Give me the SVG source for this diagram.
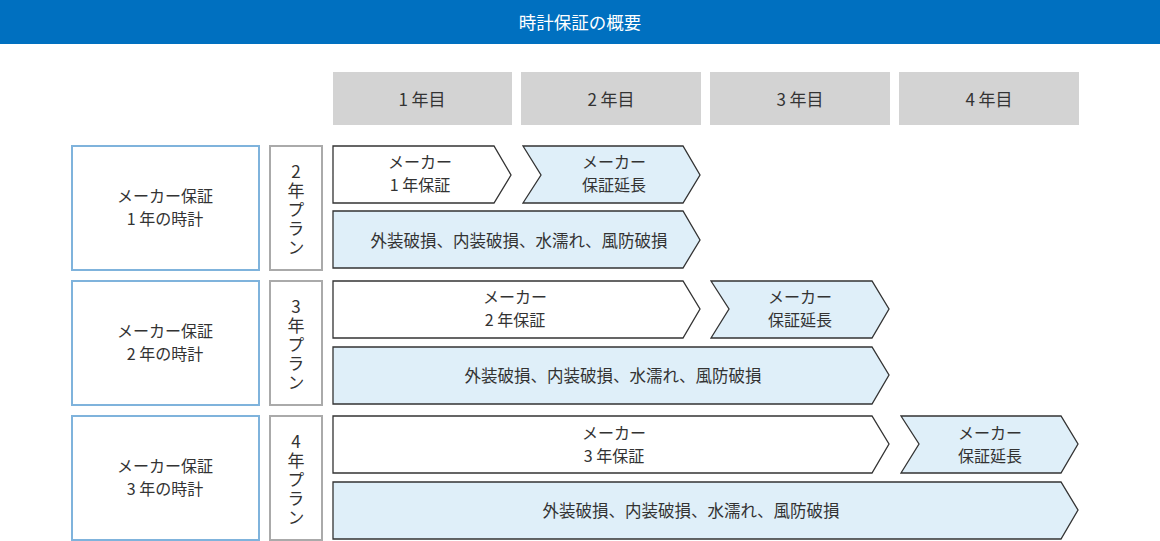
<svg xmlns="http://www.w3.org/2000/svg" width="1160" height="541" viewBox="0 0 1160 541">
<style>
text{font-family:"Noto Sans CJK JP","Noto Sans",sans-serif;fill:#333;text-anchor:middle;dominant-baseline:central}
.title{fill:#fff;font-size:17.5px}
.yr{fill:#d3d3d3}
.yt{font-size:17px}
.lb{fill:#fff;stroke:#7fb3dc;stroke-width:2}
.pb{fill:#fff;stroke:#aaa;stroke-width:2}
.w{fill:#fff;stroke:#333;stroke-width:1.3}
.b{fill:#dfeff9;stroke:#333;stroke-width:1.3}
.t{font-size:16px}
.c{font-size:16.5px}
.v{font-size:17px;writing-mode:vertical-rl;text-orientation:upright;letter-spacing:2px;dominant-baseline:auto}
</style>
<rect x="0" y="0" width="1160" height="44" fill="#0070c0"/>
<text class="title" x="580" y="21">時計保証の概要</text>
<g id="years">
<rect class="yr" x="333" y="72" width="179" height="53"/><text class="yt" x="422" y="98">1 年目</text>
<rect class="yr" x="521" y="72" width="180" height="53"/><text class="yt" x="611" y="98">2 年目</text>
<rect class="yr" x="710" y="72" width="180" height="53"/><text class="yt" x="800" y="98">3 年目</text>
<rect class="yr" x="899" y="72" width="180" height="53"/><text class="yt" x="989" y="98">4 年目</text>
</g>
<g id="row1">
<rect class="lb" x="72" y="146" width="187" height="124"/>
<text class="t" x="165" y="195">メーカー保証</text><text class="t" x="165" y="218">1 年の時計</text>
<rect class="pb" x="270" y="146" width="52" height="124"/>
<text class="v" x="296" y="211">2年プラン</text>
<polygon class="w" points="333,146 494,146 511,175 494,203 333,203"/>
<text class="t" x="420" y="161">メーカー</text><text class="t" x="420" y="184">1 年保証</text>
<polygon class="b" points="523,146 683,146 700,175 683,203 523,203 541,175"/>
<text class="t" x="614" y="161">メーカー</text><text class="t" x="614" y="184">保証延長</text>
<polygon class="b" points="333,211 683,211 700,240 683,268 333,268"/>
<text class="c" x="519" y="240">外装破損、内装破損、水濡れ、風防破損</text>
</g>
<g id="row2">
<rect class="lb" x="72" y="281" width="187" height="124"/>
<text class="t" x="165" y="330">メーカー保証</text><text class="t" x="165" y="353">2 年の時計</text>
<rect class="pb" x="270" y="281" width="52" height="124"/>
<text class="v" x="296" y="346">3年プラン</text>
<polygon class="w" points="333,281 683,281 700,309 683,338 333,338"/>
<text class="t" x="515" y="296">メーカー</text><text class="t" x="515" y="319">2 年保証</text>
<polygon class="b" points="711,281 872,281 889,309 872,338 711,338 729,309"/>
<text class="t" x="800" y="296">メーカー</text><text class="t" x="800" y="319">保証延長</text>
<polygon class="b" points="333,347 872,347 889,375 872,404 333,404"/>
<text class="c" x="613" y="375">外装破損、内装破損、水濡れ、風防破損</text>
</g>
<g id="row3">
<rect class="lb" x="72" y="416" width="187" height="124"/>
<text class="t" x="165" y="465">メーカー保証</text><text class="t" x="165" y="488">3 年の時計</text>
<rect class="pb" x="270" y="416" width="52" height="124"/>
<text class="v" x="296" y="481">4年プラン</text>
<polygon class="w" points="333,416 872,416 889,444 872,473 333,473"/>
<text class="t" x="614" y="432">メーカー</text><text class="t" x="614" y="455">3 年保証</text>
<polygon class="b" points="901,416 1061,416 1078,444 1061,473 901,473 919,444"/>
<text class="t" x="990" y="432">メーカー</text><text class="t" x="990" y="455">保証延長</text>
<polygon class="b" points="333,482 1061,482 1078,510 1061,539 333,539"/>
<text class="c" x="691" y="510">外装破損、内装破損、水濡れ、風防破損</text>
</g>
</svg>
